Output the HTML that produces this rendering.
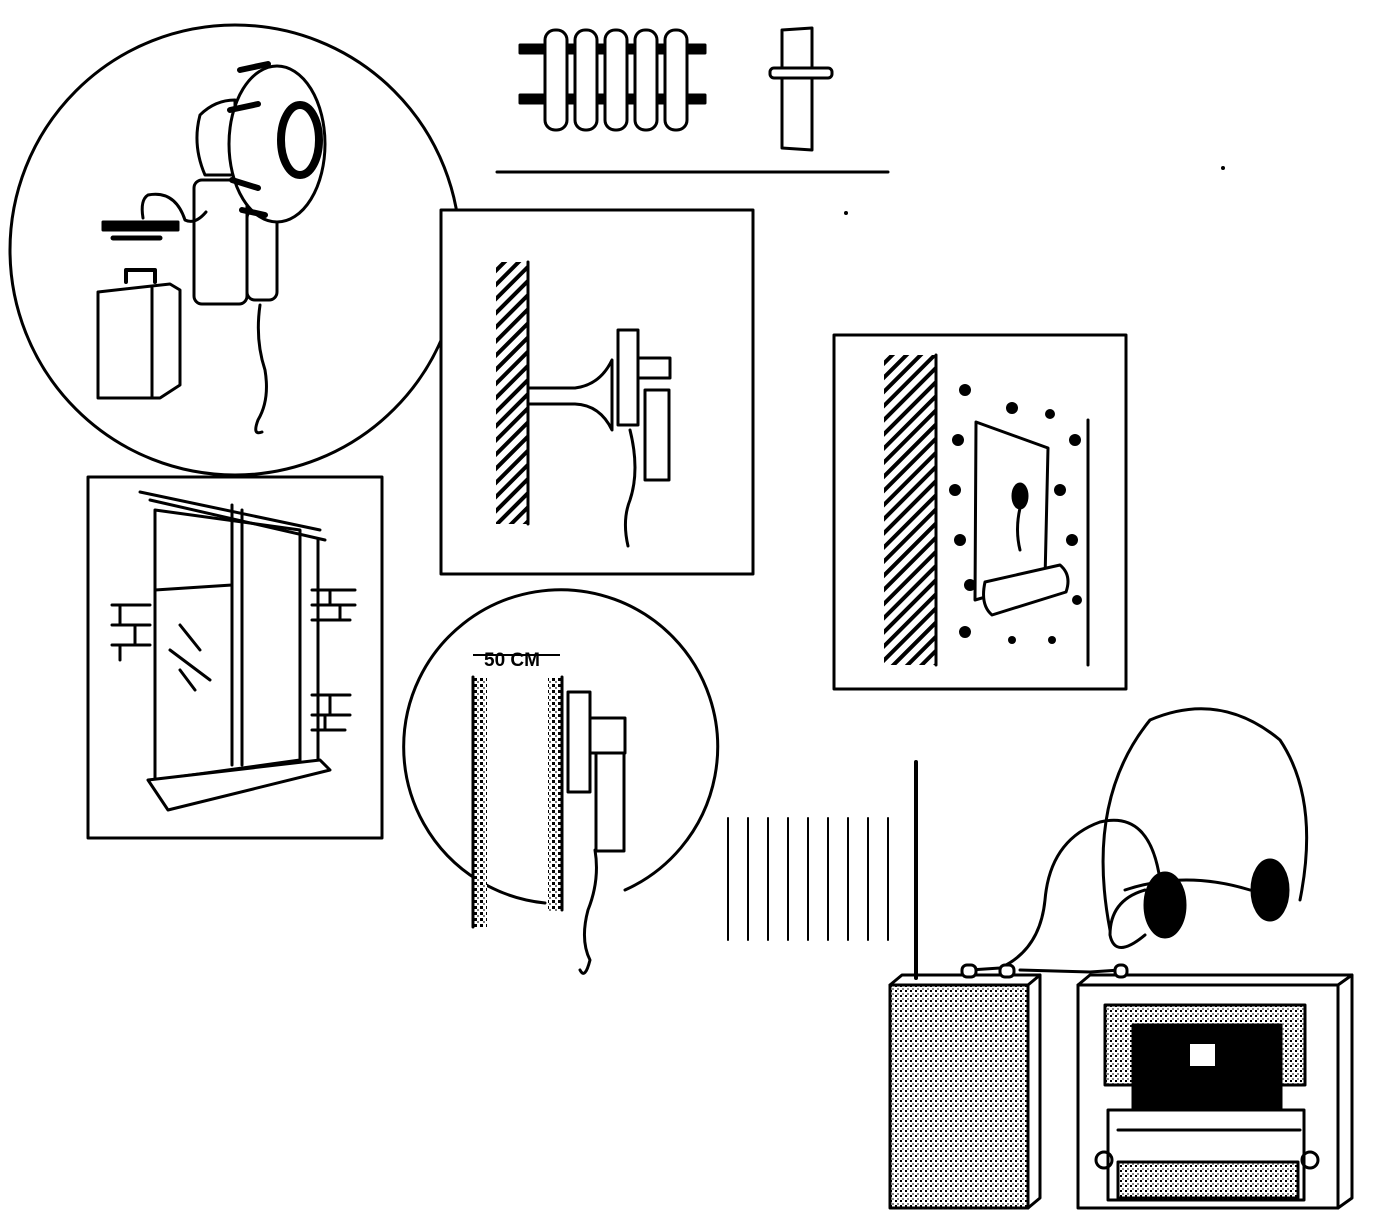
<!DOCTYPE html>
<html><head><meta charset="utf-8"><style>
html,body{margin:0;padding:0;background:#fff;}
svg{display:block;}
text{font-family:"Liberation Sans",sans-serif;}
</style></head><body>
<svg width="1377" height="1230" viewBox="0 0 1377 1230" xmlns="http://www.w3.org/2000/svg">
<defs>
<pattern id="hatch" width="10" height="10" patternUnits="userSpaceOnUse" patternTransform="rotate(45)">
<rect width="10" height="10" fill="#fff"/><rect width="4" height="10" fill="#000"/>
</pattern>
<pattern id="dots" width="6" height="6" patternUnits="userSpaceOnUse">
<rect width="6" height="6" fill="#fff"/><rect x="0" y="0" width="3" height="3" fill="#000"/><rect x="3" y="3" width="2" height="2" fill="#777"/>
</pattern>
<pattern id="grey" width="5" height="5" patternUnits="userSpaceOnUse">
<rect width="5" height="5" fill="#fff"/><rect x="0" y="0" width="2" height="2" fill="#000"/><rect x="2" y="3" width="2" height="2" fill="#888"/>
</pattern>
</defs>
<g fill="none" stroke="#000" stroke-width="3" stroke-linejoin="round" stroke-linecap="round">
<circle cx="235" cy="250" r="225"/>
<path d="M200 115 Q215 100 235 100 L235 175 L205 175 Q192 145 200 115 Z" fill="#fff"/>
<rect x="194" y="180" width="53" height="124" rx="8" fill="#fff"/>
<rect x="247" y="210" width="30" height="90" rx="8" fill="#fff"/>
<ellipse cx="277" cy="144" rx="48" ry="78" fill="#fff"/>
<path d="M240 70 L268 64 M230 110 L258 104 M232 180 L258 188 M242 210 L265 215" stroke-width="6"/>
<ellipse cx="300" cy="140" rx="19" ry="35" stroke-width="8"/>
<path d="M260 305 Q255 340 265 370 Q270 400 258 420 Q252 436 262 432"/>
<path d="M206 212 Q195 225 185 220 Q175 190 148 195 Q140 200 143 218"/>
<rect x="103" y="222" width="75" height="8" fill="#000"/>
<path d="M113 238 H160" stroke-width="5"/>
<path d="M98 292 L170 284 L180 290 L180 385 L160 398 L98 398 Z" fill="#fff"/>
<path d="M152 288 V398"/>
<path d="M126 282 V270 H155 V282" stroke-width="4"/>
<rect x="520" y="45" width="185" height="8" fill="#000"/>
<rect x="520" y="95" width="185" height="8" fill="#000"/>
<g fill="#fff">
<rect x="545" y="30" width="22" height="100" rx="10"/>
<rect x="575" y="30" width="22" height="100" rx="10"/>
<rect x="605" y="30" width="22" height="100" rx="10"/>
<rect x="635" y="30" width="22" height="100" rx="10"/>
<rect x="665" y="30" width="22" height="100" rx="10"/>
</g>
<path d="M782 30 L812 28 L812 150 L782 148 Z" fill="#fff"/>
<rect x="770" y="68" width="62" height="10" rx="4" fill="#fff"/>
<line x1="497" y1="172" x2="888" y2="172"/>
<rect x="441" y="210" width="312" height="364" fill="#fff"/>
<rect x="496" y="262" width="32" height="262" fill="url(#hatch)" stroke="none"/>
<line x1="528" y1="262" x2="528" y2="524"/>
<path d="M528 388 H575 Q600 385 612 360 L612 430 Q600 405 575 404 H528"/>
<rect x="618" y="330" width="20" height="95" fill="#fff"/>
<rect x="638" y="358" width="32" height="20" fill="#fff"/>
<rect x="645" y="390" width="24" height="90" fill="#fff"/>
<path d="M630 430 Q640 470 630 500 Q622 520 628 546"/>
<rect x="834" y="335" width="292" height="354" fill="#fff"/>
<rect x="884" y="355" width="52" height="310" fill="url(#hatch)" stroke="none"/>
<line x1="936" y1="355" x2="936" y2="665"/>
<line x1="1088" y1="420" x2="1088" y2="665"/>
<path d="M976 422 L1048 448 L1045 580 L975 600 Z" fill="#fff"/>
<ellipse cx="1020" cy="496" rx="7" ry="12" fill="#000"/>
<path d="M1020 508 Q1015 530 1020 550"/>
<path d="M985 582 L1060 565 Q1072 575 1066 592 L992 615 Q980 605 985 582 Z" fill="#fff"/>
<g fill="#000" stroke="none">
<circle cx="965" cy="390" r="6"/><circle cx="1012" cy="408" r="6"/><circle cx="1050" cy="414" r="5"/>
<circle cx="958" cy="440" r="6"/><circle cx="1075" cy="440" r="6"/><circle cx="955" cy="490" r="6"/>
<circle cx="1060" cy="490" r="6"/><circle cx="960" cy="540" r="6"/><circle cx="1072" cy="540" r="6"/>
<circle cx="970" cy="585" r="6"/><circle cx="1077" cy="600" r="5"/><circle cx="965" cy="632" r="6"/>
<circle cx="1012" cy="640" r="4"/><circle cx="1052" cy="640" r="4"/>
</g>
<rect x="88" y="477" width="294" height="361" fill="#fff"/>
<path d="M155 510 L300 530 L300 760 L155 780 Z"/>
<path d="M140 492 L320 530 M150 500 L325 540 M232 505 V765 M242 510 V765 M155 590 L232 585"/>
<path d="M148 780 L320 760 L330 770 L168 810 Z" fill="#fff"/>
<path d="M180 625 L200 650 M170 650 L210 680 M180 670 L195 690"/>
<path d="M112 605 H150 M112 625 H150 M112 645 H150 M120 605 V625 M135 625 V645 M120 645 V660"/>
<path d="M312 590 H355 M312 605 H355 M312 620 H350 M330 590 V605 M340 605 V620"/>
<path d="M312 695 H350 M312 715 H350 M312 730 H345 M330 695 V715 M325 715 V730"/>
<path d="M300 560 V760 M318 540 V760"/>
<path d="M545 903 A157 157 0 1 1 625 890"/>
<rect x="473" y="677" width="14" height="250" fill="url(#dots)" stroke="none"/>
<rect x="548" y="677" width="14" height="235" fill="url(#dots)" stroke="none"/>
<path d="M473 677 V927 M562 677 V910"/>
<rect x="568" y="692" width="22" height="100" fill="#fff"/>
<rect x="590" y="718" width="35" height="35" fill="#fff"/>
<rect x="596" y="753" width="28" height="98" fill="#fff"/>
<path d="M595 850 Q600 880 588 910 Q580 940 590 960 Q585 980 580 970"/>
<path d="M728 818 V940 M748 818 V940 M768 818 V940 M788 818 V940 M808 818 V940 M828 818 V940 M848 818 V940 M868 818 V940 M888 818 V940" stroke-width="2"/>
<line x1="916" y1="762" x2="916" y2="978" stroke-width="4"/>
<rect x="890" y="985" width="138" height="223" fill="url(#grey)"/>
<path d="M890 985 L902 975 L1040 975 L1040 1198 L1028 1208 M1028 985 L1040 975"/>
<rect x="1078" y="985" width="260" height="223" fill="#fff"/>
<path d="M1078 985 L1090 975 L1352 975 L1352 1198 L1338 1208 M1338 985 L1352 975"/>
<rect x="1105" y="1005" width="200" height="80" fill="url(#grey)"/>
<rect x="1133" y="1025" width="148" height="95" fill="#000"/>
<rect x="1190" y="1044" width="25" height="22" fill="#fff" stroke="none"/>
<rect x="1108" y="1110" width="196" height="90" fill="#fff"/>
<line x1="1118" y1="1130" x2="1300" y2="1130"/>
<rect x="1118" y="1162" width="180" height="36" fill="url(#grey)"/>
<circle cx="1104" cy="1160" r="8"/><circle cx="1310" cy="1160" r="8"/>
<path d="M1110 930 Q1085 800 1150 720 Q1220 690 1280 740 Q1320 800 1300 900"/>
<path d="M1125 890 Q1185 870 1250 890"/>
<ellipse cx="1165" cy="905" rx="20" ry="32" fill="#000"/>
<ellipse cx="1270" cy="890" rx="18" ry="30" fill="#000"/>
<path d="M1145 890 Q1110 900 1110 935 Q1115 960 1145 935"/>
<path d="M1160 880 Q1150 810 1100 822 Q1050 840 1045 900 Q1040 950 1000 968 L970 970"/>
<path d="M1020 970 L1090 972 L1120 970"/>
<rect x="962" y="965" width="14" height="12" rx="5" fill="#fff"/>
<rect x="1000" y="965" width="14" height="12" rx="5" fill="#fff"/>
<rect x="1115" y="965" width="12" height="12" rx="5" fill="#fff"/>
</g>
<text x="484" y="666" font-size="19" font-weight="bold">50 CM</text>
<path d="M473 655 H560" stroke="#000" stroke-width="2"/>
<circle cx="1223" cy="168" r="2" fill="#000"/><circle cx="846" cy="213" r="2" fill="#000"/>
</svg>
</body></html>
